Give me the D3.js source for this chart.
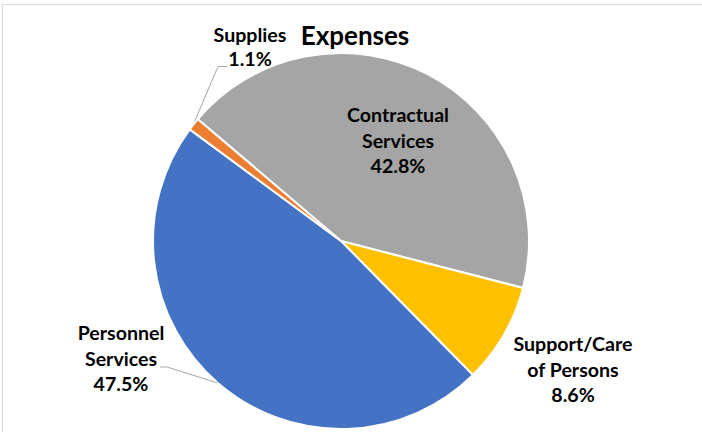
<!DOCTYPE html>
<html>
<head>
<meta charset="utf-8">
<script src="https://cdn.jsdelivr.net/npm/d3@7"></script>
<style>
  html, body { margin: 0; padding: 0; background: #fff; }
  svg { display: block; }
  text { font-family: Lato, "Noto Sans", sans-serif; font-weight: bold; fill: #000; }
</style>
</head>
<body>
<svg id="chart" width="702" height="432"></svg>
<script>
// Data
const categories = ["Contractual Services", "Support/Care of Persons", "Personnel Services", "Supplies"];
const labelLines = [["Contractual", "Services"], ["Support/Care", "of Persons"], ["Personnel", "Services"], ["Supplies"]];
const values = [42.8, 8.6, 47.5, 1.1];
const colors = ["#A5A5A5", "#FFC000", "#4472C4", "#ED7D31"];
const title = "Expenses";

const W = 702, H = 432;
const cx = 341, cy = 241, R = 188;
const startDeg = -49.6;

const svg = d3.select("#chart");

// chart border
svg.append("rect").attr("x", 2.5).attr("y", 4.5).attr("width", W + 10).attr("height", H + 10)
  .attr("fill", "none").attr("stroke", "#D9D9D9").attr("stroke-width", 1);

const pie = d3.pie().sort(null).value(d => d)
  .startAngle(startDeg * Math.PI / 180)
  .endAngle(startDeg * Math.PI / 180 + 2 * Math.PI);
const arcs = pie(values);
const arc = d3.arc().innerRadius(0).outerRadius(R);

const g = svg.append("g").attr("transform", `translate(${cx},${cy})`);
g.selectAll("path").data(arcs).enter().append("path")
  .attr("d", arc)
  .attr("fill", (d, i) => colors[i])
  .attr("stroke", "#fff")
  .attr("stroke-width", 2)
  .attr("stroke-linejoin", "round");

// title
svg.append("text").attr("x", 355).attr("y", 45).attr("text-anchor", "middle")
  .style("font-size", "26px").text(title);

// label layout (center x, first baseline y)
const labelLayout = [
  { x: 398, y: 122 },
  { x: 573, y: 351 },
  { x: 121, y: 340 },
  { x: 250, y: 42 }
];
const lineGap = 25.5;
const fmt = v => v.toFixed(1) + "%";

labelLayout.forEach((p, i) => {
  const lines = labelLines[i].concat([fmt(values[i])]);
  const t = svg.append("text").attr("text-anchor", "middle").style("font-size", "19.6px");
  lines.forEach((s, k) => {
    t.append("tspan").attr("x", p.x).attr("y", p.y + k * (i === 3 ? 23.5 : lineGap)).text(s);
  });
});

// leader lines: from arc edge to label
function edgePoint(d, f) {
  const a = d.startAngle + (d.endAngle - d.startAngle) * f;
  return [cx + R * Math.sin(a), cy - R * Math.cos(a)];
}
const sup = edgePoint(arcs[3], 0.5);
const per = edgePoint(arcs[2], 0.5);
const leaders = [
  [[227, 66.5], [218, 66.5], [sup[0] + 1, sup[1] - 3]],
  [[160, 367], [167, 367], [per[0], per[1]]]
];
leaders.forEach(pts => {
  svg.append("path").attr("d", d3.line()(pts))
    .attr("fill", "none").attr("stroke", "#A6A6A6").attr("stroke-width", 1);
});
</script>
</body>
</html>
